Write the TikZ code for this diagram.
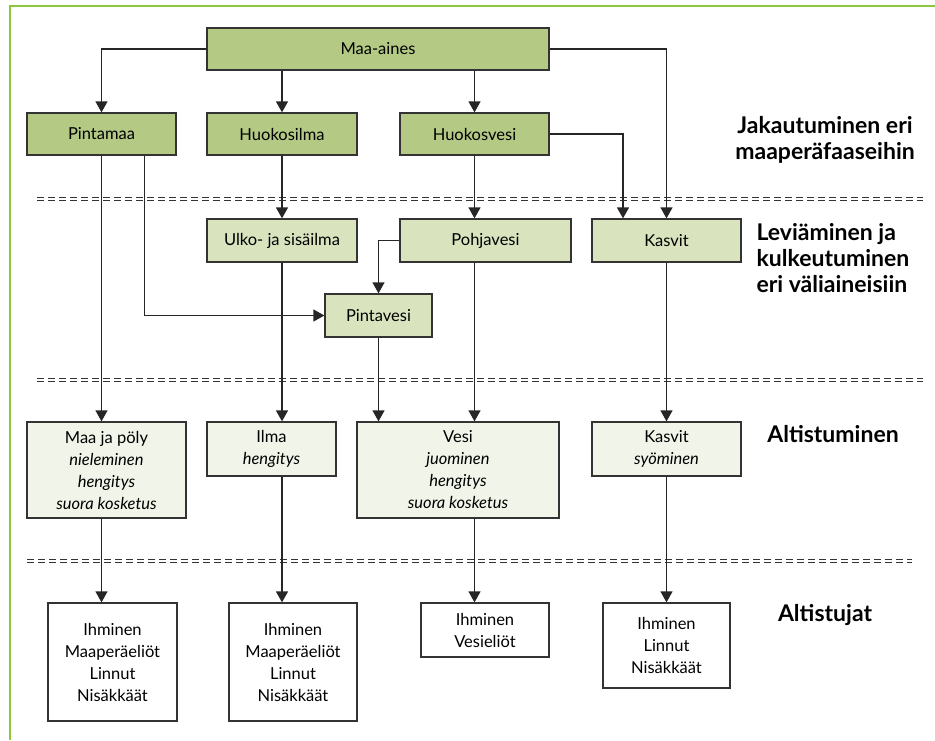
\documentclass[tikz,border=0pt]{standalone}
\usepackage{fontspec}
\setmainfont{Lato}
\usetikzlibrary{arrows.meta,positioning}
\definecolor{vihrea}{HTML}{B3C984}
\definecolor{vaalea}{HTML}{D9E4BF}
\definecolor{haalea}{HTML}{F1F5E9}
\definecolor{kehysvari}{HTML}{8DC63F}
\tikzset{
  laatikko/.style={rectangle, draw=black!80, line width=1.3pt, align=center,
    inner sep=2pt, font=\fontsize{16.5}{22}\selectfont},
  faasi/.style={laatikko, fill=vihrea, minimum height=42pt},
  vali/.style={laatikko, fill=vaalea, minimum height=43pt},
  altis/.style={laatikko, fill=haalea},
  kohde/.style={laatikko, fill=white},
  nuoli/.style={-{Triangle[length=11pt, width=12pt]}, line width=1.3pt, draw=black!85},
  raja/.style={draw=black!80, line width=1.3pt, double=white, double distance=1.5pt,
    dash pattern=on 7pt off 4pt},
  otsikko/.style={font=\fontsize{23}{26}\selectfont\bfseries, align=center},
}
\begin{document}
\begin{tikzpicture}[x=1pt, y=-1pt]
  \useasboundingbox (0,0) rectangle (935,740);
  \draw[kehysvari, line width=1.6pt] (10,740) -- (10,6) -- (935,6);

  % vaiheiden rajat
  \draw[raja] (37,199) -- (923,199);
  \draw[raja] (37,380) -- (923,380);
  \draw[raja] (27,561) -- (912,561);

  % maaperafaasit
  \node[faasi, minimum width=342pt] (maa) at (378,49) {Maa-aines};
  \node[faasi, minimum width=149pt] (pintamaa) at (101.5,134) {Pintamaa};
  \node[faasi, minimum width=150pt] (huokosilma) at (282,134) {Huokosilma};
  \node[faasi, minimum width=149pt] (huokosvesi) at (474.5,134) {Huokosvesi};

  % valiaineet
  \node[vali, minimum width=150pt] (ulko) at (282,240.5) {Ulko- ja sisäilma};
  \node[vali, minimum width=171pt] (pohjavesi) at (485.5,240.5) {Pohjavesi};
  \node[vali, minimum width=149pt] (kasvit) at (666.5,240.5) {Kasvit};
  \node[vali, minimum width=107pt] (pintavesi) at (378.5,315.5) {Pintavesi};

  % altistuminen
  \node[altis, minimum width=159pt, minimum height=96pt] (maapoly) at (106.5,470)
    {Maa ja pöly\\ \textit{nieleminen}\\ \textit{hengitys}\\ \textit{suora kosketus}};
  \node[altis, minimum width=129pt, minimum height=54pt] (ilma) at (271.5,449)
    {Ilma\\ \textit{hengitys}};
  \node[altis, minimum width=202pt, minimum height=96pt] (vesi) at (458,470)
    {Vesi\\ \textit{juominen}\\ \textit{hengitys}\\ \textit{suora kosketus}};
  \node[altis, minimum width=149pt, minimum height=54pt] (kasvit2) at (666.5,449)
    {Kasvit\\ \textit{syöminen}};

  % altistujat
  \node[kohde, minimum width=129pt, minimum height=118pt] (ihm1) at (112.5,662)
    {Ihminen\\ Maaperäeliöt\\ Linnut\\ Nisäkkäät};
  \node[kohde, minimum width=128pt, minimum height=118pt] (ihm2) at (293,662)
    {Ihminen\\ Maaperäeliöt\\ Linnut\\ Nisäkkäät};
  \node[kohde, minimum width=128pt, minimum height=54pt] (ihm3) at (485,630)
    {Ihminen\\ Vesieliöt};
  \node[kohde, minimum width=127pt, minimum height=85pt] (ihm4) at (666.5,645.5)
    {Ihminen\\ Linnut\\ Nisäkkäät};

  % otsikot oikealla
  \node[otsikko] (jakautuminen) at (825,140) {Jakautuminen eri\\ maaperäfaaseihin};
  \node[otsikko, align=left, anchor=west] (leviaminen) at (753,258)
    {Leviäminen ja\\ kulkeutuminen\\ eri väliaineisiin};
  \node[otsikko] (altistuminen) at (833,434) {Altistuminen};
  \node[otsikko] (altistujat) at (825,615) {Altistujat};

  % nuolet
  \draw[nuoli] (maa.west) -| (pintamaa.north);
  \draw[nuoli] (huokosilma.north |- maa.south) -- (huokosilma.north);
  \draw[nuoli] (huokosvesi.north |- maa.south) -- (huokosvesi.north);
  \draw[nuoli] (maa.east) -| (kasvit.north);
  \draw[nuoli] (huokosvesi.east) -| ([xshift=-43.5pt]kasvit.north);
  \draw[nuoli] (huokosilma.south) -- (ulko.north);
  \draw[nuoli] (huokosvesi.south) -- (huokosvesi.south |- pohjavesi.north);
  \draw[nuoli] (pohjavesi.west) -| (pintavesi.north);
  \draw[nuoli] ([xshift=43pt]pintamaa.south) |- (pintavesi.west);
  \draw[nuoli] (pintamaa.south) -- (pintamaa.south |- maapoly.north);
  \draw[nuoli] (ulko.south) -- (ulko.south |- ilma.north);
  \draw[nuoli] (pintavesi.south) -- (pintavesi.south |- vesi.north);
  \draw[nuoli] (huokosvesi.south |- pohjavesi.south) -- (huokosvesi.south |- vesi.north);
  \draw[nuoli] (kasvit.south) -- (kasvit2.north);
  \draw[nuoli] (pintamaa.south |- maapoly.south) -- (pintamaa.south |- ihm1.north);
  \draw[nuoli] (ulko.south |- ilma.south) -- (ulko.south |- ihm2.north);
  \draw[nuoli] (huokosvesi.south |- vesi.south) -- (huokosvesi.south |- ihm3.north);
  \draw[nuoli] (kasvit2.south) -- (ihm4.north);
\end{tikzpicture}
\end{document}
